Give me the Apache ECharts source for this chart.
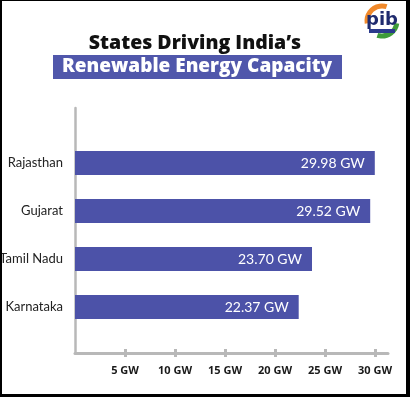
<!DOCTYPE html>
<html>
<head>
<meta charset="utf-8">
<script src="https://cdn.jsdelivr.net/npm/echarts@6/dist/echarts.min.js"></script>
<style>
    html, body { margin: 0; padding: 0; background: #000; }
    #frame { position: relative; width: 410px; height: 397px; background: #000; }
    #chart { position: absolute; left: 2px; top: 1px; width: 404px; height: 393px; background: #fff; }
</style>
</head>
<body>
<div id="frame"><div id="chart"></div></div>
<script>
var states = ['Rajasthan', 'Gujarat', 'Tamil Nadu', 'Karnataka'];
var capacity = [29.98, 29.52, 23.70, 22.37];
var tickValues = [5, 10, 15, 20, 25, 30];

var barColor = '#4c52a8';
var axisGray = '#b8b8b8';
var font = 'Lato';

var chart = echarts.init(document.getElementById('chart'));

var option = {
    backgroundColor: '#fff',
    textStyle: { fontFamily: font },
    animation: false,
    grid: [
        // bars
        { left: 73, right: 18, top: 138, bottom: 63, outerBoundsMode: 'none', containLabel: false },
        // axis frame
        { left: 73, right: 18, top: 107, bottom: 41, outerBoundsMode: 'none', containLabel: false }
    ],
    xAxis: [
        {
            gridIndex: 0, type: 'value', min: 0, max: 31.3,
            show: false
        },
        {
            gridIndex: 1, type: 'value', min: 0, max: 31.3, interval: 5,
            axisLine: { show: true, lineStyle: { color: axisGray, width: 3 } },
            axisTick: { show: true, length: 4, customValues: tickValues, lineStyle: { color: axisGray, width: 3 } },
            axisLabel: {
                customValues: tickValues,
                margin: 12,
                color: '#1a1a1a',
                fontSize: 11,
                fontWeight: 'bold',
                fontFamily: 'Open Sans',
                formatter: function (v) { return v + ' GW'; }
            },
            splitLine: { show: false }
        },
        {
            gridIndex: 1, type: 'value', min: 0, max: 31.3, position: 'bottom',
            axisLine: { show: false },
            axisTick: { show: true, inside: true, length: 4, customValues: tickValues, lineStyle: { color: axisGray, width: 3 } },
            axisLabel: { show: false },
            splitLine: { show: false }
        }
    ],
    yAxis: [
        {
            gridIndex: 0, type: 'category', data: states, inverse: true,
            axisLine: { show: false },
            axisTick: { show: false },
            axisLabel: { margin: 12, color: '#222', fontSize: 13, fontFamily: font }
        },
        {
            gridIndex: 1, type: 'value', min: 0, max: 1,
            axisLine: { show: true, lineStyle: { color: axisGray, width: 2.5 } },
            axisTick: { show: false },
            axisLabel: { show: false },
            splitLine: { show: false }
        }
    ],
    series: [
        {
            type: 'bar',
            xAxisIndex: 0,
            yAxisIndex: 0,
            data: capacity,
            barWidth: 24,
            itemStyle: { color: barColor },
            label: {
                show: true,
                position: 'insideRight',
                distance: 10,
                color: '#fff',
                fontSize: 14,
                fontFamily: font,
                formatter: function (p) { return p.value.toFixed(2) + ' GW'; }
            }
        }
    ],
    graphic: [
        {
            type: 'text', x: 193, y: 42, z: 10,
            style: { text: "States Driving India\u2019s", font: '800 19.5px "Open Sans"', fill: '#111', align: 'center', verticalAlign: 'middle' }
        },
        {
            type: 'rect', shape: { x: 51, y: 54, width: 289, height: 24 },
            style: { fill: '#5057ab' }
        },
        {
            type: 'text', x: 195, y: 66, z: 10,
            style: { text: 'Renewable Energy Capacity', font: '800 19px "Open Sans"', fill: '#fff', align: 'center', verticalAlign: 'middle' }
        },
        // pib logo
        {
            type: 'group', x: 380, y: 20,
            children: [
                { type: 'circle', shape: { cx: 0, cy: 0, r: 17 }, style: { fill: '#fff' } },
                { type: 'arc', shape: { cx: 0, cy: 0, r: 15, startAngle: Math.PI * 0.95, endAngle: Math.PI * 1.6 }, style: { stroke: '#f0892a', lineWidth: 5, fill: null } },
                { type: 'arc', shape: { cx: 0, cy: 0, r: 15, startAngle: Math.PI * 0.05, endAngle: Math.PI * 0.6 }, style: { stroke: '#3e9b3a', lineWidth: 5, fill: null } },
                { type: 'text', x: 0, y: -1, style: { text: 'pib', font: 'bold 18px "DejaVu Sans"', fill: '#1f2b6e', align: 'center', verticalAlign: 'middle' } },
                { type: 'rect', shape: { x: -13, y: 8, width: 26, height: 4 }, style: { fill: '#2b3a8c' } }
            ]
        }
    ]
};

chart.setOption(option);
</script>
</body>
</html>
